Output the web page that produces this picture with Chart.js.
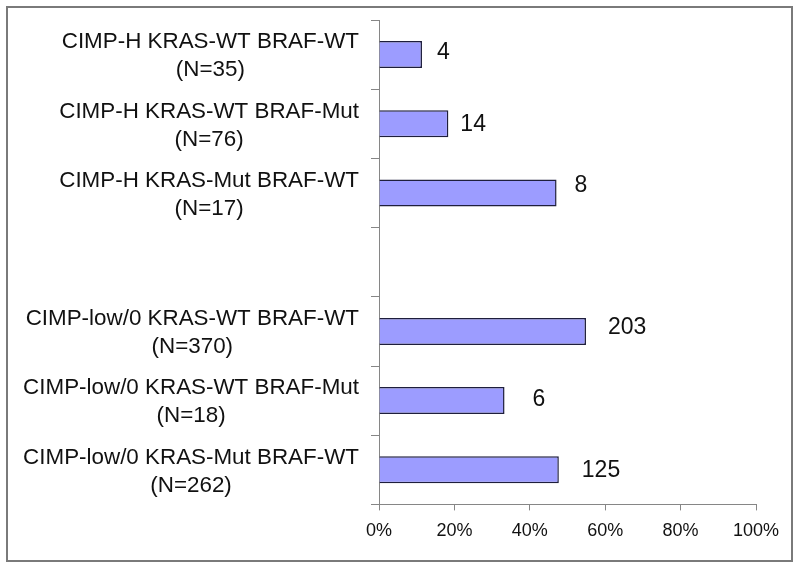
<!DOCTYPE html>
<html>
<head>
<meta charset="utf-8">
<script src="https://cdn.jsdelivr.net/npm/chart.js@4.4.1/dist/chart.umd.min.js"></script>
<style>
  html, body { margin: 0; padding: 0; background: #ffffff; }
  #wrap { width: 800px; height: 567px; position: relative; }
</style>
</head>
<body>
<div id="wrap"><canvas id="c" width="800" height="567"></canvas></div>
<script>
// ---- data ----
const categories = [
  'CIMP-H KRAS-WT BRAF-WT',
  'CIMP-H KRAS-WT BRAF-Mut',
  'CIMP-H KRAS-Mut BRAF-WT',
  '',
  'CIMP-low/0 KRAS-WT BRAF-WT',
  'CIMP-low/0 KRAS-WT BRAF-Mut',
  'CIMP-low/0 KRAS-Mut BRAF-WT'
];
const groupSizes = ['(N=35)', '(N=76)', '(N=17)', '', '(N=370)', '(N=18)', '(N=262)'];
const percentValues = [11.4, 18.4, 47.1, null, 54.9, 33.3, 47.7];
const countLabels = ['4', '14', '8', '', '203', '6', '125'];
const xTicks = [0, 20, 40, 60, 80, 100];

// label placement tweaks (style only)
const labelDx = [15, 12, 18, 0, 22, 28, 23];
const labelDy = [-3, 0, -8, 0, -5, -2, 0];

const FONT = '"Liberation Sans", Arial, Helvetica, sans-serif';

const framePlugin = {
  id: 'frame',
  beforeDraw(chart) {
    const ctx = chart.ctx;
    ctx.save();
    ctx.fillStyle = '#ffffff';
    ctx.fillRect(0, 0, chart.width, chart.height);
    ctx.strokeStyle = '#7a7a7a';
    ctx.lineWidth = 2;
    ctx.strokeRect(7, 7, 785, 554);
    ctx.restore();
  }
};

const catLabelPlugin = {
  id: 'catLabels',
  afterDraw(chart) {
    const ctx = chart.ctx;
    const yScale = chart.scales.y;
    ctx.save();
    ctx.font = '22.4px ' + FONT;
    ctx.fillStyle = '#111111';
    ctx.textAlign = 'center';
    ctx.textBaseline = 'alphabetic';
    const rightEdge = 359;
    categories.forEach((name, i) => {
      if (!name) return;
      const cy = yScale.getPixelForValue(i);
      const w = Math.max(ctx.measureText(name).width, ctx.measureText(groupSizes[i]).width);
      const cx = rightEdge - w / 2;
      ctx.fillText(name, cx, cy - 6.2);
      ctx.fillText(groupSizes[i], cx, cy + 21.8);
    });
    // bar value labels
    ctx.font = '23px ' + FONT;
    ctx.textAlign = 'left';
    ctx.textBaseline = 'middle';
    const meta = chart.getDatasetMeta(0);
    meta.data.forEach((bar, i) => {
      if (percentValues[i] == null) return;
      ctx.fillText(countLabels[i], bar.x + labelDx[i], bar.y + labelDy[i] + 1);
    });
    ctx.restore();
  }
};

new Chart(document.getElementById('c'), {
  type: 'bar',
  data: {
    labels: categories,
    datasets: [{
      data: percentValues,
      backgroundColor: '#9c9cff',
      borderColor: '#1e1e3c',
      borderWidth: 1.5,
      barPercentage: 0.39,
      categoryPercentage: 1.0
    }]
  },
  options: {
    indexAxis: 'y',
    responsive: false,
    animation: false,
    events: [],
    layout: { padding: { left: 371, right: 44, top: 20, bottom: 15 } },
    plugins: {
      legend: { display: false },
      tooltip: { enabled: false },
      title: { display: false }
    },
    scales: {
      x: {
        min: 0,
        max: 100,
        afterBuildTicks(scale) { scale.ticks = xTicks.map(v => ({ value: v })); },
        border: { display: true, color: '#868686', width: 1 },
        grid: { display: true, drawOnChartArea: false, drawTicks: true, tickLength: 6, color: '#868686' },
        ticks: {
          padding: 10,
          color: '#111111',
          font: { family: FONT, size: 18 },
          callback: v => v + '%',
          maxRotation: 0
        }
      },
      y: {
        offset: true,
        border: { display: true, color: '#868686', width: 1 },
        grid: { display: true, offset: true, drawOnChartArea: false, drawTicks: true, tickLength: 8, color: '#868686' },
        ticks: { display: false }
      }
    }
  },
  plugins: [framePlugin, catLabelPlugin]
});
</script>
</body>
</html>
